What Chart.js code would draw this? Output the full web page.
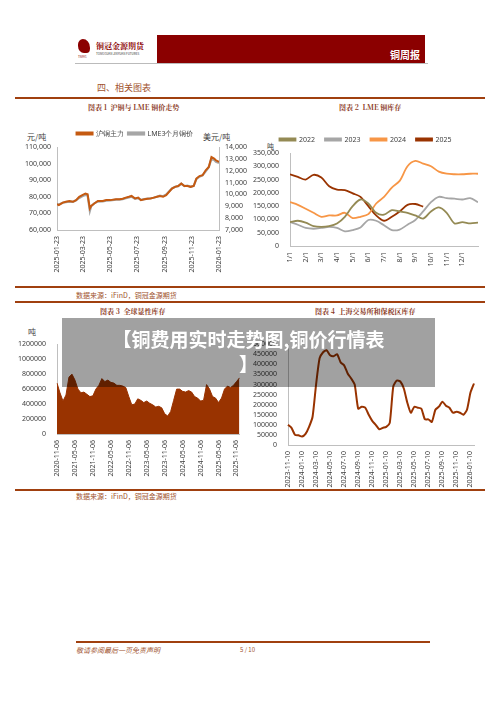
<!DOCTYPE html>
<html><head><meta charset="utf-8">
<script src="https://cdn.jsdelivr.net/npm/chart.js@4/dist/chart.umd.min.js"></script>
<style>
body{margin:0;width:500px;height:707px;background:#fff;position:relative;overflow:hidden;font-family:"Noto Sans CJK SC","Noto Sans",sans-serif}
.a{position:absolute;white-space:nowrap}
.box{position:absolute}
.t{font-family:"Noto Serif CJK SC","Noto Sans CJK SC",serif;font-size:7px;color:#8B3A1E;font-weight:bold}
.hl{position:absolute;height:2px;background:#A0400F}
</style></head><body>
<!-- header -->
<div class="a" style="left:76px;top:36px;width:80px;height:27px;">
 <div class="a" style="left:2px;top:3px;width:12px;height:14px;background:#8B0000;border-radius:40% 60% 30% 50%"></div>
 <div class="a" style="left:20px;top:4px;font-size:8px;font-weight:bold;color:#8B0000;font-family:'Noto Serif CJK SC',serif">铜冠金源期货</div>
 <div class="a" style="left:20px;top:16px;font-size:3px;color:#333">TONGGUAN JINYUAN FUTURES</div>
 <div class="a" style="left:2px;top:19px;font-size:3px;color:#8B0000">TNMG</div>
</div>
<div class="a" style="left:157px;top:35px;width:268px;height:28px;background:#8B0000"></div>
<div class="a" style="left:390px;top:47px;font-size:10px;color:#fff;font-weight:bold">铜周报</div>
<div class="a" style="left:75px;top:63px;width:353px;height:1px;background:#bbb"></div>
<div class="a" style="left:97px;top:81px;font-size:9px;color:#A0522D">四、相关图表</div>
<div class="hl" style="left:15px;top:97px;width:470px"></div>
<div class="a t" style="left:88px;top:102px">图表 1 &nbsp;沪铜与 LME 铜价走势</div>
<div class="a t" style="left:339px;top:102px">图表 2 &nbsp;LME 铜库存</div>
<div class="a" style="left:27px;top:131px;font-size:8px;color:#404040">元/吨</div>
<div class="a" style="left:203px;top:131px;font-size:8px;color:#404040">美元/吨</div>
<div class="a" style="left:267px;top:141px;font-size:7px;color:#404040">吨</div>
<div class="box" style="left:15px;top:126px;width:240px;height:150px"><canvas id="c1"></canvas></div>
<div class="box" style="left:253px;top:126px;width:234px;height:140px"><canvas id="c2"></canvas></div>
<div class="hl" style="left:15px;top:286px;width:470px"></div>
<div class="a" style="left:76px;top:290px;font-size:7px;color:#A0522D">数据来源：iFinD，铜冠金源期货</div>
<div class="hl" style="left:15px;top:301px;width:470px"></div>
<div class="a t" style="left:100px;top:306px">图表 3 &nbsp;全球显性库存</div>
<div class="a t" style="left:315px;top:306px">图表 4 &nbsp;上海交易所和保税区库存</div>
<div class="a" style="left:28px;top:326px;font-size:8px;color:#404040">吨</div>
<div class="box" style="left:15px;top:337px;width:233px;height:141px"><canvas id="c3"></canvas></div>
<div class="box" style="left:250px;top:337px;width:235px;height:152px"><canvas id="c4"></canvas></div>
<div class="hl" style="left:15px;top:489px;width:470px"></div>
<div class="a" style="left:76px;top:491px;font-size:7px;color:#A0522D">数据来源：iFinD，铜冠金源期货</div>
<!-- overlay -->
<div class="a" style="left:62px;top:318px;width:373px;height:69px;background:rgba(0,0,0,0.37)"></div>
<div class="a" style="left:62px;top:326px;width:373px;text-align:center;font-size:19px;font-weight:bold;color:#fff;line-height:25px">【铜费用实时走势图,铜价行情表<br>】</div>
<!-- footer -->
<div class="a" style="left:76px;top:641px;width:354px;height:2px;background:#A0400F"></div>
<div class="a" style="left:76px;top:645px;font-size:7px;font-style:italic;color:#A0522D">敬请参阅最后一页免责声明</div>
<div class="a" style="left:240px;top:645px;font-size:6px;color:#A0522D">5 / 10</div>
<script>
// ---- chart 1 data ----
const c1Dates=["2025-01-23","2025-01-27","2025-02-05","2025-02-12","2025-02-20","2025-02-28","2025-03-07","2025-03-14","2025-03-21","2025-03-28","2025-04-02","2025-04-07","2025-04-10","2025-04-17","2025-04-25","2025-05-06","2025-05-14","2025-05-23","2025-06-05","2025-06-13","2025-06-20","2025-06-27","2025-07-04","2025-07-10","2025-07-18","2025-07-25","2025-07-31","2025-08-08","2025-08-15","2025-08-22","2025-08-29","2025-09-05","2025-09-12","2025-09-19","2025-09-26","2025-10-09","2025-10-16","2025-10-23","2025-10-30","2025-11-06","2025-11-13","2025-11-20","2025-11-27","2025-12-03","2025-12-10","2025-12-17","2025-12-24","2025-12-31","2026-01-06","2026-01-12","2026-01-16","2026-01-23"];
const shfe=[75500,75000,76500,77000,77500,77000,78000,80000,81000,82000,81500,73000,74500,76000,77500,77500,78000,78000,78500,78500,78800,79500,80000,80500,79000,79500,78000,78500,78800,79000,79500,80000,80500,80000,81000,85000,86000,86500,88000,86500,86500,86000,86500,91000,92500,93000,96000,98000,104000,103000,102000,101000];
const lme=[9200,9150,9300,9350,9400,9380,9500,9700,9850,9950,9900,8600,9000,9250,9400,9420,9480,9500,9560,9570,9600,9680,9750,9800,9620,9680,9550,9600,9640,9680,9720,9800,9900,9850,10000,10500,10650,10700,10900,10700,10750,10650,10720,11300,11500,11600,11950,12300,13000,12900,12750,12650];
const c1Ticks=["2025-01-23","2025-03-23","2025-05-23","2025-07-23","2025-09-23","2025-11-23","2026-01-23"];
// ---- chart 2 data (half-month steps from 1/1) ----
const c2Months=["1/1","2/1","3/1","4/1","5/1","6/1","7/1","8/1","9/1","10/1","11/1","12/1"];
const y2022=[90000,95000,88000,75000,72000,75000,85000,110000,150000,175000,160000,125000,118000,135000,130000,125000,115000,103000,130000,145000,125000,85000,90000,85000,88000];
const y2023=[90000,80000,68000,65000,68000,72000,68000,55000,60000,70000,98000,95000,78000,60000,62000,80000,98000,130000,165000,185000,180000,178000,175000,180000,165000];
const y2024=[165000,155000,140000,125000,110000,115000,115000,125000,105000,110000,120000,160000,185000,220000,245000,300000,320000,310000,300000,280000,272000,270000,270000,272000,272000];
const y2025=[270000,260000,250000,268000,258000,225000,212000,210000,198000,185000,150000,115000,95000,110000,130000,155000,158000,148000];
// ---- chart 3 data (monthly) ----
const c3Labels=["2020-11","2020-12","2021-01","2021-02","2021-03","2021-04","2021-05","2021-06","2021-07","2021-08","2021-09","2021-10","2021-11","2021-12","2022-01","2022-02","2022-03","2022-04","2022-05","2022-06","2022-07","2022-08","2022-09","2022-10","2022-11","2022-12","2023-01","2023-02","2023-03","2023-04","2023-05","2023-06","2023-07","2023-08","2023-09","2023-10","2023-11","2023-12","2024-01","2024-02","2024-03","2024-04","2024-05","2024-06","2024-07","2024-08","2024-09","2024-10","2024-11","2024-12","2025-01","2025-02","2025-03","2025-04","2025-05","2025-06","2025-07","2025-08","2025-09","2025-10","2025-11","2025-12"];
const c3Vals=[680000,550000,440000,520000,760000,800000,720000,600000,550000,560000,530000,500000,510000,600000,650000,740000,700000,720000,690000,680000,650000,650000,640000,620000,500000,390000,400000,470000,450000,420000,440000,410000,390000,360000,370000,350000,270000,240000,300000,450000,600000,600000,570000,560000,580000,560000,500000,480000,440000,450000,660000,600000,500000,480000,420000,480000,600000,640000,620000,650000,700000,750000];
// ---- chart 4 data (semi-monthly) ----
const c4Labels=["2023-11-10","2023-11-25","2023-12-10","2023-12-25","2024-01-10","2024-01-25","2024-02-10","2024-02-25","2024-03-10","2024-03-25","2024-04-10","2024-04-25","2024-05-10","2024-05-25","2024-06-10","2024-06-25","2024-07-10","2024-07-25","2024-08-10","2024-08-25","2024-09-10","2024-09-25","2024-10-10","2024-10-25","2024-11-10","2024-11-25","2024-12-10","2024-12-25","2025-01-10","2025-01-25","2025-02-10","2025-02-25","2025-03-10","2025-03-25","2025-04-10","2025-04-25","2025-05-10","2025-05-25","2025-06-10","2025-06-25","2025-07-10","2025-07-25","2025-08-10","2025-08-25","2025-09-10","2025-09-25","2025-10-10","2025-10-25","2025-11-10","2025-11-25","2025-12-10","2025-12-25","2026-01-10","2026-01-18"];
const c4Vals=[100000,85000,50000,48000,42000,55000,90000,140000,300000,430000,460000,470000,445000,440000,450000,410000,395000,355000,330000,300000,180000,190000,185000,150000,120000,100000,78000,85000,90000,110000,290000,320000,315000,280000,210000,160000,190000,185000,180000,128000,127000,115000,175000,190000,215000,195000,185000,160000,165000,160000,150000,175000,260000,305000];

const TC='#404040', F={size:7,family:'Noto Sans'};
const day=s=>(Date.parse(s)-Date.parse(c1Dates[0]))/864e5;
const fmt=v=>v.toLocaleString('en-US');
const plain=v=>String(v);
const axLine={display:false,drawTicks:true,tickLength:3,color:'#bfbfbf'};
const border={color:'#bfbfbf'};
Chart.defaults.animation=false;
Chart.defaults.font.family='Noto Sans';
Chart.defaults.color=TC;

new Chart(c1,{type:'line',data:{datasets:[
 {label:'沪铜主力',data:c1Dates.map((d,i)=>({x:day(d),y:shfe[i]})),borderColor:'#C55A11',borderWidth:2,pointRadius:0,yAxisID:'y'},
 {label:'LME3个月铜价',data:c1Dates.map((d,i)=>({x:day(d),y:lme[i]})),borderColor:'#A6A6A6',borderWidth:2.2,pointRadius:0,yAxisID:'y1'}]},
 options:{responsive:true,maintainAspectRatio:false,layout:{padding:{right:0,top:0}},
 plugins:{legend:{labels:{boxWidth:16,boxHeight:2,font:{size:7},padding:4,color:TC}}},
 scales:{x:{type:'linear',min:0,max:day('2026-01-23'),grid:axLine,border,
   afterBuildTicks:s=>{s.ticks=c1Ticks.map(d=>({value:day(d)}))},
   afterFit:s=>{s.height=46},
   ticks:{font:F,maxRotation:90,minRotation:90,callback:v=>c1Ticks.find(d=>Math.abs(day(d)-v)<0.5)||''}},
  y:{min:60000,max:110000,grid:axLine,border,afterFit:s=>{s.width=42},ticks:{font:F,stepSize:10000,callback:fmt}},
  y1:{position:'right',min:7000,max:14000,grid:{display:false,drawTicks:true,tickLength:3,color:'#bfbfbf'},border,afterFit:s=>{s.width=36},ticks:{font:F,stepSize:1000,callback:fmt}}}}});

const xs=a=>a.map((v,i)=>({x:i,y:v}));
new Chart(c2,{type:'line',data:{datasets:[
 {label:'2022',data:xs(y2022),borderColor:'#948A54',borderWidth:1.8,pointRadius:0,tension:0.3},
 {label:'2023',data:xs(y2023),borderColor:'#A6A6A6',borderWidth:1.8,pointRadius:0,tension:0.3},
 {label:'2024',data:xs(y2024),borderColor:'#F79646',borderWidth:1.8,pointRadius:0,tension:0.3},
 {label:'2025',data:xs(y2025),borderColor:'#993300',borderWidth:1.8,pointRadius:0,tension:0.3}]},
 options:{responsive:true,maintainAspectRatio:false,layout:{padding:{right:9}},
 plugins:{legend:{labels:{boxWidth:16,boxHeight:2,font:{size:7},padding:10,color:TC}}},
 scales:{x:{type:'linear',min:0,max:24,grid:axLine,border,
   afterBuildTicks:s=>{s.ticks=c2Months.map((m,i)=>({value:i*2}))},
   afterFit:s=>{s.height=20},
   ticks:{font:F,maxRotation:90,minRotation:90,callback:v=>c2Months[v/2]}},
  y:{min:0,max:350000,grid:{display:false},border,afterFit:s=>{s.width=37},ticks:{font:F,stepSize:50000,autoSkip:false,callback:fmt}}}}});

new Chart(c3,{type:'line',data:{labels:c3Labels,datasets:[
 {data:c3Vals,borderColor:'#993300',backgroundColor:'#993300',borderWidth:1,pointRadius:0,fill:'origin'}]},
 options:{responsive:true,maintainAspectRatio:false,layout:{padding:{right:7}},
 plugins:{legend:{display:false}},
 scales:{x:{offset:false,grid:{display:false,drawTicks:true,tickLength:3},border,afterFit:s=>{s.height=44},
   ticks:{font:F,autoSkip:false,maxRotation:90,minRotation:90,callback:(v,i)=>{const l=c3Labels[i];return /-(05|11)$/.test(l)?l+'-06':null}}},
  y:{min:0,max:1200000,grid:{display:false},border,afterFit:s=>{s.width=42},ticks:{font:F,stepSize:200000,autoSkip:false,callback:plain}}}}});

new Chart(c4,{type:'line',data:{labels:c4Labels,datasets:[
 {data:c4Vals,borderColor:'#993300',borderWidth:2,pointRadius:0,tension:0.2}]},
 options:{responsive:true,maintainAspectRatio:false,layout:{padding:{right:11}},
 plugins:{legend:{display:false}},
 scales:{x:{offset:false,grid:{display:false,drawTicks:true,tickLength:3},border,afterFit:s=>{s.height=44},
   ticks:{font:F,autoSkip:false,maxRotation:90,minRotation:90,callback:(v,i)=>{const l=c4Labels[i];return /-(01|03|05|07|09|11)-10$/.test(l)?l:null}}},
  y:{min:0,max:500000,grid:{display:false},border,afterFit:s=>{s.width=38},ticks:{font:F,stepSize:50000,autoSkip:false,callback:plain}}}}});
</script></body></html>
